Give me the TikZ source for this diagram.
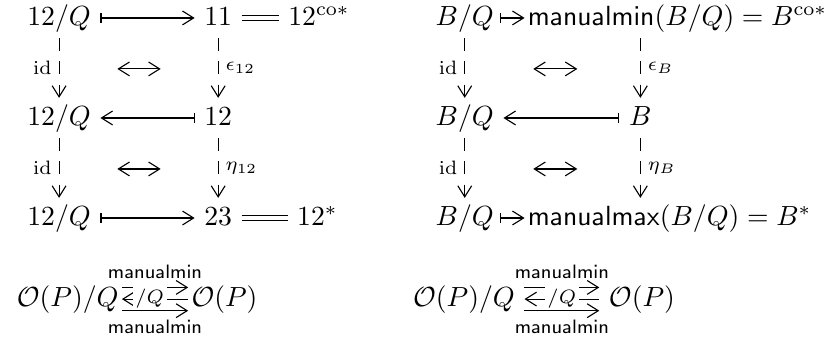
\documentclass[tikz,border=0pt]{standalone}
\usepackage{amsfonts,amsmath,amssymb}
\usetikzlibrary{arrows.meta}
\tikzset{
  every picture/.style={line join=round, >={Straight Barb[length=4pt,width=5pt]}},
  obj/.style={inner sep=3.3pt, text height=1.5ex, text depth=0.25ex},
  lbl/.style={font=\scriptsize, inner sep=2.5pt},
  arrlbl/.style={font=\scriptsize, inner sep=3pt},
  mapto/.style={{Bar[width=3.4pt]}->},
  dashto/.style={->, dash pattern=on 4.6pt off 3.8pt},
  eqline/.style={double, double distance=1.5pt},
}

\begin{document}
\begin{tikzpicture}
\useasboundingbox (0,0) rectangle (10.55,4.305);
% left square
\node[obj] (a1) at (0.75,4.077) {$12/Q$};
\node[obj] (b1) at (2.77,4.077) {$11$};
\node[obj] (c1) at (4.05,4.077) {$12^{\mathrm{co}*}$};
\node[obj] (a2) at (0.75,2.807) {$12/Q$};
\node[obj] (b2) at (2.77,2.807) {$12$};
\node[obj] (a3) at (0.75,1.537) {$12/Q$};
\node[obj] (b3) at (2.77,1.537) {$23$};
\node[obj] (c3) at (4.03,1.537) {$12^*$};
\draw[mapto] (a1) -- (b1);
\draw[eqline] (b1) -- (c1);
\draw[mapto] (b2) -- (a2);
\draw[mapto] (a3) -- (b3);
\draw[eqline] (b3) -- (c3);
\draw[dashto] (a1) -- node[lbl,left]{$\mathrm{id}$} (a2);
\draw[dashto] (b1) -- node[lbl,right]{$\epsilon_{12}$} (b2);
\draw[dashto] (a2) -- node[lbl,left]{$\mathrm{id}$} (a3);
\draw[dashto] (b2) -- node[lbl,right]{$\eta_{12}$} (b3);
\coordinate (s1l) at (1.49,3.43);
\coordinate (s1r) at (2.04,3.43);
\coordinate (s2l) at (1.49,2.16);
\coordinate (s2r) at (2.04,2.16);
\draw[<->] (s1l) -- (s1r);
\draw[<->] (s2l) -- (s2r);
% right square
\node[obj,inner sep=2pt] (d1) at (5.90,4.077) {$B/Q$};
\node[obj,anchor=west,inner sep=1pt] (e1) at (6.66,4.077) {$\mathsf{manualmin}(B/Q)=B^{\mathrm{co}*}$};
\node[obj] (d2) at (5.90,2.807) {$B/Q$};
\node[obj] (e2) at (8.13,2.807) {$B$};
\node[obj,inner sep=2pt] (d3) at (5.90,1.537) {$B/Q$};
\node[obj,anchor=west,inner sep=1pt] (e3) at (6.66,1.537) {$\mathsf{manualmax}(B/Q)=B^*$};
\draw[mapto] (d1) -- (e1);
\draw[mapto] (e2) -- (d2);
\draw[mapto] (d3) -- (e3);
\draw[dashto] ([yshift=-1.3pt]d1.south) -- node[lbl,left]{$\mathrm{id}$} (d2);
\draw[dashto] ([yshift=-2.3pt]e1.south -| e2) -- node[lbl,right]{$\epsilon_B$} (e2);
\draw[dashto] (d2) -- node[lbl,left]{$\mathrm{id}$} ([yshift=1.3pt]d3.north);
\draw[dashto] (e2) -- node[lbl,right]{$\eta_B$} ([yshift=2.3pt]e3.north -| e2);
\coordinate (s3l) at (6.77,3.43);
\coordinate (s3r) at (7.33,3.43);
\coordinate (s4l) at (6.77,2.16);
\coordinate (s4r) at (7.33,2.16);
\draw[<->] (s3l) -- (s3r);
\draw[<->] (s4l) -- (s4r);
% adjunctions
\node[obj,inner sep=1pt] (p1) at (0.86,0.508) {$\mathcal{O}(P)/Q$};
\node[obj,inner sep=1pt] (q1) at (2.85,0.508) {$\mathcal{O}(P)$};
\draw[->] ([yshift=4.2pt]p1.east) -- node[arrlbl,above]{$\mathsf{manualmin}$} ([yshift=4.2pt]q1.west);
\draw[<-] (p1) -- node[arrlbl,fill=white,inner sep=1pt,pos=0.42]{$/Q$} (q1);
\draw[->] ([yshift=-4.2pt]p1.east) -- node[arrlbl,below]{$\mathsf{manualmin}$} ([yshift=-4.2pt]q1.west);
\node[obj] (p2) at (5.89,0.508) {$\mathcal{O}(P)/Q$};
\node[obj] (q2) at (8.15,0.508) {$\mathcal{O}(P)$};
\draw[->] ([yshift=4.2pt]p2.east) -- node[arrlbl,above]{$\mathsf{manualmin}$} ([yshift=4.2pt]q2.west);
\draw[<-] (p2) -- node[arrlbl,fill=white,inner sep=1pt]{$/Q$} (q2);
\draw[->] ([yshift=-4.2pt]p2.east) -- node[arrlbl,below]{$\mathsf{manualmin}$} ([yshift=-4.2pt]q2.west);
\end{tikzpicture}
\end{document}
